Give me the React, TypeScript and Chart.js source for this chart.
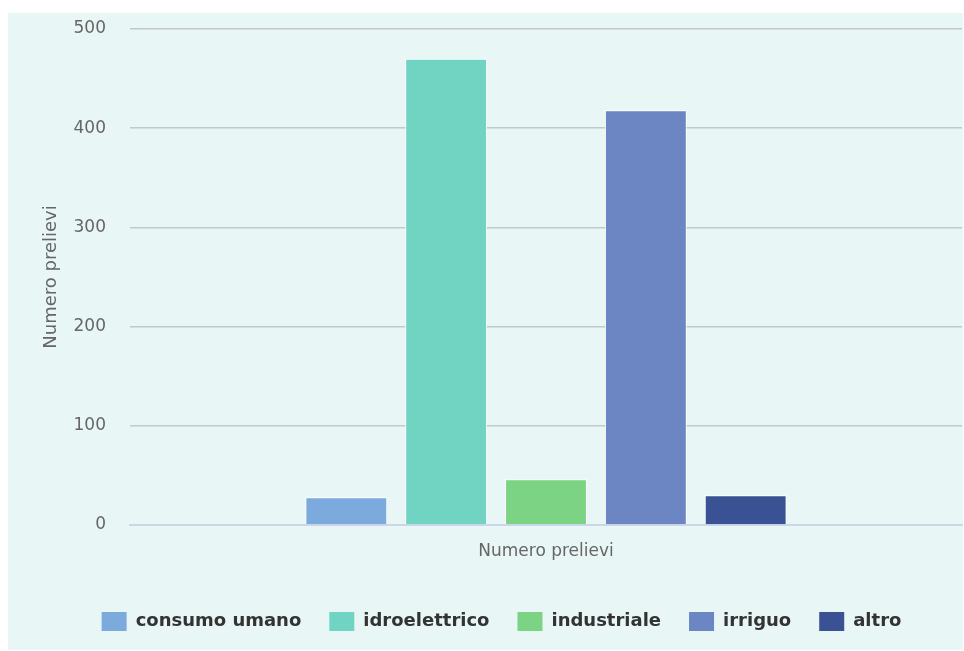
import React, { useEffect, useRef } from "react";
import { Chart, registerables } from "chart.js";

Chart.register(...registerables);

// Prelievi per tipologia d'uso
const categories = ["Numero prelievi"];
const seriesNames = ["consumo umano", "idroelettrico", "industriale", "irriguo", "altro"];
const seriesValues = [28, 470, 46, 418, 30];
const seriesColors = ["#7caadc", "#71d4c2", "#7bd383", "#6b86c2", "#3a5294"];
const yTicks = [0, 100, 200, 300, 400, 500];

const FONT = "'DejaVu Sans', Verdana, sans-serif";

export default function App() {
  const canvasRef = useRef<HTMLCanvasElement | null>(null);

  useEffect(() => {
    if (!canvasRef.current) return;
    const chart = new Chart(canvasRef.current, {
      type: "bar",
      data: {
        labels: categories,
        datasets: seriesNames.map((name, i) => ({
          label: name,
          data: [seriesValues[i]],
          backgroundColor: seriesColors[i],
          borderColor: "#ffffff",
          borderWidth: 1,
        })),
      },
      options: {
        animation: false,
        responsive: true,
        maintainAspectRatio: false,
        layout: { padding: { left: 33, right: 1, top: 16, bottom: 9 } },
        datasets: { bar: { categoryPercentage: 0.6, barPercentage: 0.82 } },
        scales: {
          x: {
            grid: { display: false, drawTicks: false },
            border: { display: true, color: "#ccd6eb", width: 2 },
            ticks: { color: "#666666", font: { family: FONT, size: 17 }, padding: 16 },
            afterFit: (axis: any) => {
              axis.height = 59;
            },
          },
          y: {
            min: 0,
            max: 500,
            afterBuildTicks: (axis: any) => {
              axis.ticks = yTicks.map((v) => ({ value: v }));
            },
            afterFit: (axis: any) => {
              axis.width = 89;
            },
            grid: {
              color: (ctx: any) => (ctx.tick && ctx.tick.value === 0 ? "rgba(0,0,0,0)" : "#c4c8c8"),
              lineWidth: 1.5,
              drawTicks: true,
              tickLength: 24,
              tickColor: "rgba(0,0,0,0)",
            },
            border: { display: false },
            ticks: { color: "#666666", font: { family: FONT, size: 17 }, padding: 0 },
            title: {
              display: true,
              text: "Numero prelievi",
              color: "#666666",
              font: { family: FONT, size: 18 },
              padding: { top: 0, bottom: 12 },
            },
          },
        },
        plugins: {
          tooltip: { enabled: false },
          legend: {
            position: "bottom",
            labels: {
              color: "#333333",
              font: { family: FONT, size: 18, weight: "bold" },
              boxWidth: 25,
              boxHeight: 19,
              padding: 28,
              generateLabels: (c: any) =>
                Chart.defaults.plugins.legend.labels.generateLabels(c).map((l: any) => ({
                  ...l,
                  strokeStyle: l.fillStyle,
                  lineWidth: 0,
                })),
            },
          },
        },
      },
    });
    return () => chart.destroy();
  }, []);

  return (
    <div
      style={{
        position: "fixed",
        left: 8,
        top: 13,
        width: 955,
        height: 637,
        background: "rgb(232,247,245)",
      }}
    >
      <canvas ref={canvasRef} />
    </div>
  );
}
